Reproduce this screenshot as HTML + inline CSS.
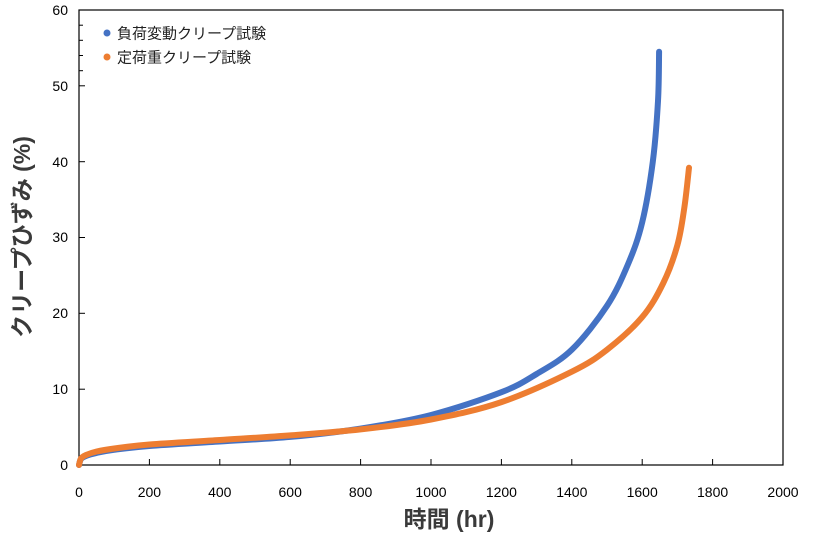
<!DOCTYPE html>
<html><head><meta charset="utf-8"><style>
body{margin:0;background:#fff}
text{font-family:"Liberation Sans","Noto Sans CJK JP",sans-serif}
</style></head><body>
<svg width="818" height="533" xmlns="http://www.w3.org/2000/svg">
<rect x="79" y="10" width="704" height="455" fill="none" stroke="#000" stroke-width="1.2"/>
<g stroke="#000" stroke-width="1">
<line x1="149.4" y1="465" x2="149.4" y2="459"/><line x1="219.8" y1="465" x2="219.8" y2="459"/><line x1="290.2" y1="465" x2="290.2" y2="459"/><line x1="360.6" y1="465" x2="360.6" y2="459"/><line x1="431" y1="465" x2="431" y2="459"/><line x1="501.4" y1="465" x2="501.4" y2="459"/><line x1="571.8" y1="465" x2="571.8" y2="459"/><line x1="642.2" y1="465" x2="642.2" y2="459"/><line x1="712.6" y1="465" x2="712.6" y2="459"/>
<line x1="79" y1="389.2" x2="85" y2="389.2"/><line x1="79" y1="313.3" x2="85" y2="313.3"/><line x1="79" y1="237.5" x2="85" y2="237.5"/><line x1="79" y1="161.7" x2="85" y2="161.7"/><line x1="79" y1="85.8" x2="85" y2="85.8"/>
<line x1="79" y1="25.2" x2="83" y2="25.2"/><line x1="79" y1="40.3" x2="83" y2="40.3"/><line x1="79" y1="55.5" x2="83" y2="55.5"/><line x1="79" y1="70.7" x2="83" y2="70.7"/>
</g>
<g font-size="14" fill="#000" text-anchor="end">
<text x="68" y="470">0</text><text x="68" y="394">10</text><text x="68" y="318">20</text><text x="68" y="242">30</text><text x="68" y="167">40</text><text x="68" y="91">50</text><text x="68" y="15">60</text>
</g>
<g font-size="14" fill="#000" text-anchor="middle">
<text x="79" y="497">0</text><text x="149.4" y="497">200</text><text x="219.8" y="497">400</text><text x="290.2" y="497">600</text><text x="360.6" y="497">800</text><text x="431" y="497">1000</text><text x="501.4" y="497">1200</text><text x="571.8" y="497">1400</text><text x="642.2" y="497">1600</text><text x="712.6" y="497">1800</text><text x="783" y="497">2000</text>
</g>
<text x="449" y="527" font-size="23" font-weight="bold" fill="#3a3a3a" text-anchor="middle">時間 (hr)</text>
<text transform="translate(30,237) rotate(-90)" font-size="23" font-weight="bold" fill="#3a3a3a" text-anchor="middle">クリープひずみ (%)</text>
<path id="pb" d="M79,465 L81,459 L86,455.9 L96.6,452.9 L114.2,449.8 L149.4,446 L219.8,441.5 L290.2,436.9 L360.6,428.6 L431,415 L501.4,392.2 L536.6,374 L571.8,349.7 L607,305.8 L628.1,264 L642.2,222.3 L652.8,161.7 L658,101 L659.1,51.7" fill="none" stroke="#4472c4" stroke-width="6" stroke-linejoin="round" stroke-linecap="round"/>
<path id="po" d="M79,465 L81,458.5 L86,455 L96.6,451.5 L114.2,448.5 L149.4,444.5 L219.8,440 L290.2,435.4 L360.6,429.4 L431,419.5 L501.4,402.1 L571.8,371.7 L607,349.7 L642.2,317.1 L663.3,283 L677.4,245.1 L684.4,207.2 L689,167.7" fill="none" stroke="#ed7d31" stroke-width="6" stroke-linejoin="round" stroke-linecap="round"/>
<circle cx="107" cy="33" r="3.5" fill="#4472c4"/>
<circle cx="107" cy="57" r="3.5" fill="#ed7d31"/>
<text x="117" y="38.5" font-size="15" fill="#222">負荷変動クリープ試験</text>
<text x="117" y="62.5" font-size="15" fill="#222">定荷重クリープ試験</text>
</svg>
<script>
function smooth(id){
 var el=document.getElementById(id);
 var nums=el.getAttribute('d').replace(/[ML]/g,' ').trim().split(/[\s,]+/).map(Number);
 var p=[];for(var i=0;i<nums.length;i+=2)p.push([nums[i],nums[i+1]]);
 var d='M'+p[0][0]+','+p[0][1];
 for(var i=0;i<p.length-1;i++){
  var p0=p[i-1]||p[i],p1=p[i],p2=p[i+1],p3=p[i+2]||p2;
  var c1=[p1[0]+(p2[0]-p0[0])/6,p1[1]+(p2[1]-p0[1])/6];
  var c2=[p2[0]-(p3[0]-p1[0])/6,p2[1]-(p3[1]-p1[1])/6];
  d+=' C'+c1.join(',')+' '+c2.join(',')+' '+p2.join(',');
 }
 el.setAttribute('d',d);
}
smooth('pb');smooth('po');
</script>
</body></html>
